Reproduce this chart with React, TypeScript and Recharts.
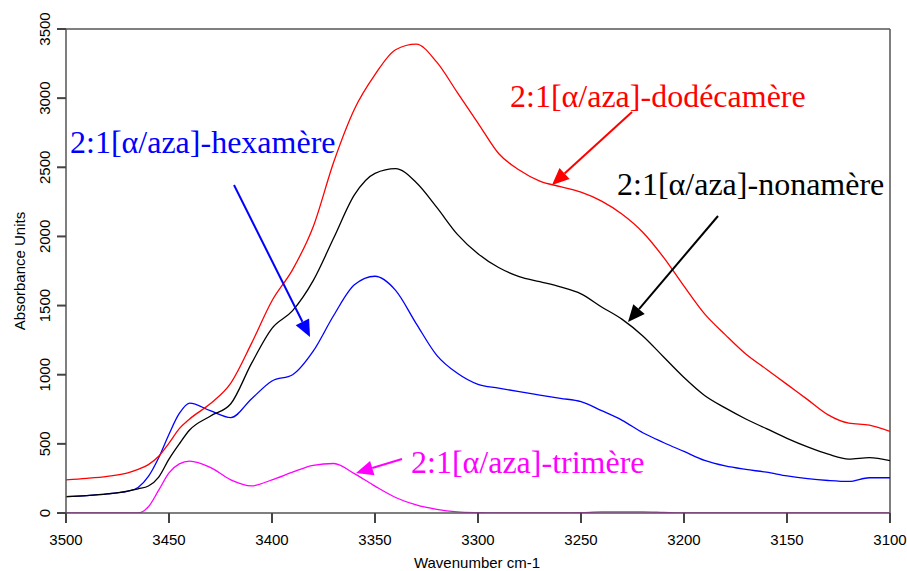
import React from "react";
import { LineChart, Line, XAxis, YAxis, ReferenceLine } from "recharts";

const wavenumbers = [3500, 3490, 3480, 3470, 3465, 3460, 3455, 3450, 3445, 3440, 3430, 3420, 3410, 3400, 3390, 3380, 3370, 3360, 3350, 3340, 3330, 3320, 3310, 3300, 3290, 3280, 3270, 3260, 3250, 3240, 3230, 3220, 3210, 3200, 3190, 3180, 3170, 3160, 3150, 3140, 3130, 3120, 3110, 3100];

const dodecamere = [239, 250, 265, 290, 315, 350, 410, 505, 610, 680, 790, 940, 1225, 1535, 1760, 2070, 2540, 2920, 3170, 3350, 3390, 3260, 3040, 2820, 2600, 2480, 2400, 2360, 2320, 2255, 2160, 2030, 1850, 1640, 1440, 1290, 1150, 1040, 930, 820, 710, 650, 636, 590];

const nonamere = [118, 126, 138, 158, 175, 195, 260, 390, 500, 600, 700, 790, 1080, 1335, 1463, 1680, 1990, 2300, 2456, 2490, 2390, 2210, 2015, 1875, 1775, 1710, 1673, 1635, 1585, 1490, 1400, 1280, 1130, 980, 850, 760, 680, 610, 540, 478, 425, 390, 400, 378];

const hexamere = [118, 126, 138, 158, 185, 265, 400, 570, 720, 795, 740, 690, 825, 955, 1000, 1170, 1430, 1650, 1712, 1610, 1370, 1140, 1010, 930, 903, 877, 853, 829, 805, 740, 670, 580, 510, 445, 380, 340, 315, 295, 268, 248, 235, 228, 255, 255];

const trimere = [0, 0, 0, 0, 0, 45, 165, 290, 355, 375, 330, 240, 196, 240, 295, 345, 358, 285, 194, 112, 58, 26, 8, 2, 0, 0, 0, 0, 2, 8, 8, 8, 4, 0, 0, 0, 0, 0, 0, 0, 0, 0, 0, 0];

const xTicks = [3500, 3450, 3400, 3350, 3300, 3250, 3200, 3150, 3100];
const yTicks = [0, 500, 1000, 1500, 2000, 2500, 3000, 3500];

const data = wavenumbers.map((w, i) => ({
  w,
  dodecamere: dodecamere[i],
  nonamere: nonamere[i],
  hexamere: hexamere[i],
  trimere: trimere[i],
}));

const SANS = "'Liberation Sans', Arial, sans-serif";
const SERIF = "'Liberation Serif', 'Times New Roman', serif";
const AXIS = "#555";
const X_MIN = 3100;
const X_MAX = 3500;
const Y_MAX = 3500;
const PLOT_L = 66;
const PLOT_T = 29;
const PLOT_W = 824;
const PLOT_H = 484;
const PLOT_B = PLOT_T + PLOT_H;
const px = (w: number) => PLOT_L + ((X_MAX - w) / (X_MAX - X_MIN)) * PLOT_W;
const py = (v: number) => PLOT_B - (v / Y_MAX) * PLOT_H;

const YTick = (props: any) => {
  const { x, y, payload } = props;
  const bx = Number(x) - 6;
  return (
    <text
      x={bx}
      y={y}
      transform={`rotate(-90, ${bx}, ${y})`}
      textAnchor="middle"
      fontSize={15}
      fontFamily={SANS}
      fill="#000"
    >
      {payload.value}
    </text>
  );
};

const XTick = (props: any) => {
  const { x, y, payload } = props;
  return (
    <text x={x} y={Number(y) + 11} textAnchor="middle" fontSize={15} fontFamily={SANS} fill="#000">
      {payload.value}
    </text>
  );
};

const Arrow = ({ x1, y1, x2, y2, color }: any) => {
  const dx = x2 - x1;
  const dy = y2 - y1;
  const len = Math.sqrt(dx * dx + dy * dy);
  const ux = dx / len;
  const uy = dy / len;
  const hl = 17;
  const hw = 7.5;
  const bx = x2 - ux * hl;
  const by = y2 - uy * hl;
  const nx = -uy;
  const ny = ux;
  return (
    <g>
      <line x1={x1} y1={y1} x2={bx} y2={by} stroke={color} strokeWidth={2} />
      <polygon
        points={`${x2},${y2} ${bx + nx * hw},${by + ny * hw} ${bx - nx * hw},${by - ny * hw}`}
        fill={color}
      />
    </g>
  );
};

export default function App() {
  return (
    <div style={{ position: "absolute", left: 0, top: 0, width: 907, height: 571, background: "#fff" }}>
      <LineChart
        width={907}
        height={571}
        data={data}
        margin={{ top: PLOT_T, right: 907 - PLOT_L - PLOT_W, bottom: 18, left: 0 }}
      >
        <XAxis
          dataKey="w"
          type="number"
          domain={[X_MIN, X_MAX]}
          reversed
          ticks={xTicks}
          interval={0}
          height={571 - PLOT_B - 18}
          stroke={AXIS}
          strokeWidth={1.5}
          tickLine={false}
          tickSize={9}
          tickMargin={12}
          tick={XTick}
          allowDataOverflow
        />
        <YAxis
          type="number"
          domain={[0, Y_MAX]}
          ticks={yTicks}
          interval={0}
          width={PLOT_L}
          stroke={AXIS}
          strokeWidth={1.5}
          tickLine={false}
          tickSize={8}
          tickMargin={2}
          tick={YTick}
          allowDataOverflow
        />
        <ReferenceLine y={Y_MAX} stroke={AXIS} strokeWidth={1.5} />
        <ReferenceLine x={X_MIN} stroke={AXIS} strokeWidth={1.5} />
        <Line type="monotone" dataKey="trimere" stroke="#FF00FF" strokeWidth={1.3} dot={false} isAnimationActive={false} />
        <Line type="monotone" dataKey="hexamere" stroke="#0000FF" strokeWidth={1.3} dot={false} isAnimationActive={false} />
        <Line type="monotone" dataKey="nonamere" stroke="#000000" strokeWidth={1.3} dot={false} isAnimationActive={false} />
        <Line type="monotone" dataKey="dodecamere" stroke="#FF0000" strokeWidth={1.3} dot={false} isAnimationActive={false} />
      </LineChart>
      <svg
        width={907}
        height={571}
        style={{ position: "absolute", left: 0, top: 0, pointerEvents: "none" }}
      >
        {xTicks.map((t) => (
          <rect key={`xt${t}`} x={px(t) - 1} y={PLOT_B} width={2} height={10} fill="#444" />
        ))}
        {yTicks.map((t) => (
          <rect key={`yt${t}`} x={PLOT_L - 9} y={py(t) - 1} width={9} height={2} fill="#444" />
        ))}
        <text x={477} y={568} textAnchor="middle" fontSize={15} fontFamily={SANS} fill="#000">
          Wavenumber cm-1
        </text>
        <text
          x={25}
          y={271}
          transform="rotate(-90, 25, 271)"
          textAnchor="middle"
          fontSize={15}
          fontFamily={SANS}
          fill="#000"
        >
          Absorbance Units
        </text>
        <text x={510} y={107} fontSize={32} fontFamily={SERIF} fill="#FF0000">
          2:1[α/aza]-dodécamère
        </text>
        <text x={70} y={153} fontSize={32} fontFamily={SERIF} fill="#0000FF">
          2:1[α/aza]-hexamère
        </text>
        <text x={617} y={195} fontSize={32} fontFamily={SERIF} fill="#000000">
          2:1[α/aza]-nonamère
        </text>
        <text x={411} y={473} fontSize={32} fontFamily={SERIF} fill="#FF00FF">
          2:1[α/aza]-trimère
        </text>
        <Arrow x1={632} y1={112} x2={552} y2={185} color="#FF0000" />
        <Arrow x1={718} y1={216} x2={628} y2={322} color="#000000" />
        <Arrow x1={234} y1={185} x2={310} y2={337} color="#0000FF" />
        <Arrow x1={402} y1={459} x2={356} y2={473} color="#FF00FF" />
      </svg>
    </div>
  );
}
